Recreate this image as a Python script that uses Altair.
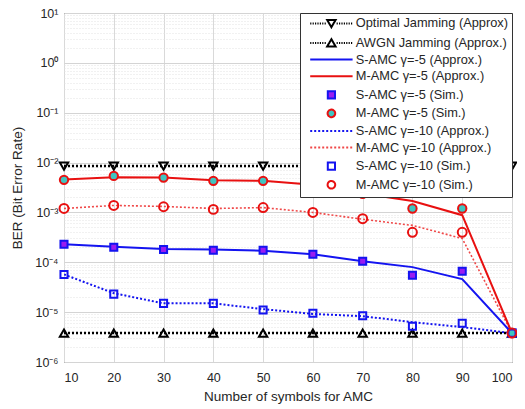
import altair as alt
import pandas as pd

# ---------------- data ----------------
x_vals = [10, 20, 30, 40, 50, 60, 70, 80, 90, 100]

optimal_jam = [8.5e-3, 8.5e-3, 8.5e-3, 8.5e-3, 8.5e-3, 8.5e-3, 8.5e-3, 8.5e-3, 8.5e-3, 8.5e-3]
awgn_jam = [3.8e-6, 3.8e-6, 3.8e-6, 3.8e-6, 3.8e-6, 3.8e-6, 3.8e-6, 3.8e-6, 3.8e-6, 3.8e-6]
s5_approx = [2.3e-4, 2.05e-4, 1.85e-4, 1.8e-4, 1.7e-4, 1.45e-4, 1.05e-4, 8.0e-5, 4.6e-5, 3.8e-6]
m5_approx = [4.6e-3, 5.1e-3, 5.0e-3, 4.4e-3, 4.3e-3, 3.6e-3, 2.4e-3, 1.7e-3, 8.8e-4, 3.8e-6]
s5_sim = [2.3e-4, 2.0e-4, 1.8e-4, 1.75e-4, 1.75e-4, 1.45e-4, 1.05e-4, 5.5e-5, 6.6e-5, 3.8e-6]
m5_sim = [4.5e-3, 5.4e-3, 5.0e-3, 4.3e-3, 4.3e-3, 3.6e-3, 2.35e-3, 1.2e-3, 1.2e-3, 3.8e-6]
s10_approx = [5.7e-5, 2.4e-5, 1.5e-5, 1.5e-5, 1.15e-5, 9.2e-6, 8.3e-6, 6.3e-6, 5.0e-6, 3.8e-6]
m10_approx = [1.2e-3, 1.38e-3, 1.32e-3, 1.2e-3, 1.25e-3, 1.0e-3, 7.3e-4, 5.5e-4, 3.0e-4, 3.8e-6]
s10_sim = [5.7e-5, 2.3e-5, 1.5e-5, 1.5e-5, 1.1e-5, 9.5e-6, 8.5e-6, 5.2e-6, 6.0e-6, 3.8e-6]
m10_sim = [1.2e-3, 1.38e-3, 1.3e-3, 1.15e-3, 1.25e-3, 1.0e-3, 7.5e-4, 4.0e-4, 4.0e-4, 3.8e-6]

labels = [
    "Optimal Jamming (Approx)",
    "AWGN Jamming (Approx.)",
    "S-AMC \u03b3=-5 (Approx.)",
    "M-AMC \u03b3=-5 (Approx.)",
    "S-AMC \u03b3=-5 (Sim.)",
    "M-AMC \u03b3=-5 (Sim.)",
    "S-AMC \u03b3=-10 (Approx.)",
    "M-AMC \u03b3=-10 (Approx.)",
    "S-AMC \u03b3=-10 (Sim.)",
    "M-AMC \u03b3=-10 (Sim.)",
]
series_values = [optimal_jam, awgn_jam, s5_approx, m5_approx, s5_sim, m5_sim,
                 s10_approx, m10_approx, s10_sim, m10_sim]

x_ticks = [10, 20, 30, 40, 50, 60, 70, 80, 90, 100]
y_ticks = [m * 10.0 ** e for e in range(-6, 1) for m in range(1, 10)] + [10.0]

rows = []
for name, vals in zip(labels, series_values):
    for xv, yv in zip(x_vals, vals):
        rows.append({"x": xv, "y": yv, "series": name})
df = pd.DataFrame(rows)

# ---------------- styles ----------------
BLACK = "#000000"
BLUE = "#1414f0"
RED = "#e81010"
RED_LIGHT = "#f04848"
PURPLE = "#9a1cf0"
TEAL = "#40c4c0"
TXT = "#262626"
FONT = "Liberation Sans"

is_decade = "abs(log(datum.value)/LN10 - round(log(datum.value)/LN10)) < 0.001"
E = "round(log(datum.value)/LN10)"
sup = {1: "\u00b9", 0: "\u2070", -1: "\u207b\u00b9", -2: "\u207b\u00b2", -3: "\u207b\u00b3",
       -4: "\u207b\u2074", -5: "\u207b\u2075", -6: "\u207b\u2076"}
lab = "''"
for k, v in sup.items():
    lab = f"({E} == {k} ? '10{v}' : {lab})"
y_label_expr = f"({is_decade}) ? {lab} : ''"

X = alt.X(
    "x:Q",
    scale=alt.Scale(domain=[10, 100], nice=False, zero=False),
    axis=alt.Axis(
        values=x_ticks, title="Number of symbols for AMC", ticks=False, domain=False,
        labelFontSize=12.5, labelColor=TXT, labelFont=FONT, labelPadding=9,
        titleFontSize=13.5, titleFont=FONT, titleColor=TXT, titleFontWeight="normal",
        titlePadding=6, gridColor="#d9d9d9", gridWidth=1,
    ),
)
Y = alt.Y(
    "y:Q",
    scale=alt.Scale(type="log", domain=[1e-6, 10], nice=False),
    axis=alt.Axis(
        values=y_ticks, labelExpr=y_label_expr, title="BER (Bit Error Rate)", ticks=False,
        domain=False, labelFontSize=12.5, labelColor=TXT, labelFont=FONT, labelPadding=6,
        titleFontSize=13.5, titleFont=FONT, titleColor=TXT, titleFontWeight="normal",
        titlePadding=10,
        gridColor={"condition": {"test": is_decade, "value": "#d4d4d4"}, "value": "#e2e2e2"},
        gridDash={"condition": {"test": is_decade, "value": []}, "value": [1, 2]},
        labelFlush=False,
    ),
)

base = alt.Chart(df)


def line_layer(name, color, width, dash=None):
    kw = dict(color=color, strokeWidth=width, clip=True)
    if dash:
        kw["strokeDash"] = dash
    return base.transform_filter(alt.datum.series == name).mark_line(**kw).encode(x=X, y=Y)


def point_layer(name, shape, stroke, size, fill=None):
    kw = dict(shape=shape, stroke=stroke, size=size, strokeWidth=2, opacity=1, clip=False)
    if fill:
        kw.update(filled=True, fill=fill, fillOpacity=1)
    else:
        kw.update(filled=False, color=stroke)
    return base.transform_filter(alt.datum.series == name).mark_point(**kw).encode(x=X, y=Y)


layers = [
    line_layer(labels[0], BLACK, 2.5, [2, 2]),
    line_layer(labels[1], BLACK, 2.5, [2, 2]),
    line_layer(labels[7], RED_LIGHT, 1.6, [2, 2]),
    line_layer(labels[6], BLUE, 2, [2, 2]),
    line_layer(labels[3], RED, 2),
    line_layer(labels[2], BLUE, 2),
    point_layer(labels[0], "triangle-down", BLACK, 70),
    point_layer(labels[1], "triangle-up", BLACK, 70),
    point_layer(labels[4], "square", BLUE, 50, PURPLE),
    point_layer(labels[5], "circle", RED, 70, TEAL),
    point_layer(labels[8], "square", BLUE, 50),
    point_layer(labels[9], "circle", RED, 80),
]

# ---------------- legend (symbol paths, unit = 4 px) ----------------
def dotted(a, b, seg=0.3, gap=0.3):
    parts = []
    p = a
    while p < b:
        q = min(p + seg, b)
        parts.append(f"M{p:.2f},0H{q:.2f}")
        p = q + gap
    return "".join(parts)

tri_down = "M-1.05,-0.85L1.05,-0.85L0,0.95Z"
tri_up = "M-1.05,0.85L1.05,0.85L0,-0.95Z"
line_path = "M-5.3,0H5.3"
square = "M-0.9,-0.9H0.9V0.9H-0.9Z"
circle = "M-0.95,0A0.95,0.95,0,1,1,0.95,0A0.95,0.95,0,1,1,-0.95,0Z"

leg_shapes = [
    dotted(-5.3, -1.2) + dotted(1.3, 5.3) + tri_down,
    dotted(-5.3, -1.2) + dotted(1.3, 5.3) + tri_up,
    line_path, line_path, square, circle, line_path, line_path, square, circle,
]
leg_strokes = [BLACK, BLACK, BLUE, RED, BLUE, RED, BLUE, RED_LIGHT, BLUE, RED]
leg_fills = ["transparent", "transparent", "transparent", "transparent", PURPLE, TEAL,
             "transparent", "transparent", "transparent", "transparent"]
leg_dash = [[1, 0], [1, 0], [1, 0], [1, 0], [1, 0], [1, 0], [2, 2], [2, 2], [1, 0], [1, 0]]

legend = alt.Legend(
    title=None, orient="top-right", offset=0, padding=4, fillColor="white",
    strokeColor="#333333", symbolSize=64, symbolStrokeWidth=2, symbolOffset=21,
    labelOffset=18, labelFontSize=12.8, labelFont=FONT, labelColor=TXT, rowPadding=2.6,
    labelLimit=220, symbolFillColor="transparent",
)

legend_layer = base.transform_filter(alt.datum.x == 100).mark_point(
    opacity=0, size=1, filled=True
).encode(
    x=X, y=Y,
    shape=alt.Shape("series:N", scale=alt.Scale(domain=labels, range=leg_shapes), sort=labels, legend=legend),
    stroke=alt.Stroke("series:N", scale=alt.Scale(domain=labels, range=leg_strokes), sort=labels, legend=legend),
    fill=alt.Fill("series:N", scale=alt.Scale(domain=labels, range=leg_fills), sort=labels, legend=legend),
    strokeDash=alt.StrokeDash("series:N", scale=alt.Scale(domain=labels, range=leg_dash), sort=labels, legend=legend),
)

chart = alt.layer(*layers, legend_layer).properties(
    width=448, height=349,
    autosize=alt.AutoSizeParams(type="none"),
    padding={"left": 56, "top": 5, "right": 5, "bottom": 46},
    background="white",
).configure_view(stroke="#333333", strokeWidth=1)

chart.save("out.html", embed_options={"renderer": "svg", "actions": False})
